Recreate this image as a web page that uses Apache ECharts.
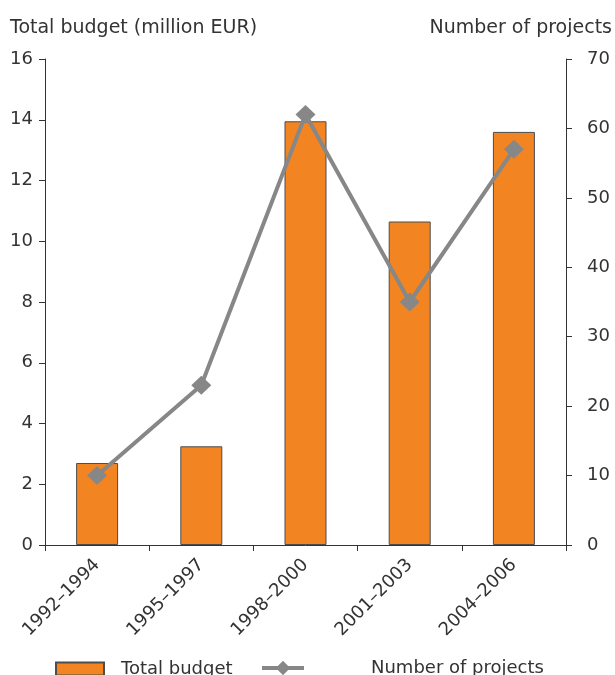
<!DOCTYPE html>
<html><head><meta charset="utf-8">
<script src="https://cdn.jsdelivr.net/npm/echarts@6/dist/echarts.min.js"></script>
<style>html,body{margin:0;padding:0;background:#fff}#c{width:615px;height:675px}</style>
</head><body><div id="c"></div>
<script>
const categories = ['1992\u20131994','1995\u20131997','1998\u20132000','2001\u20132003','2004\u20132006'];
const totalBudget = [2.7, 3.25, 13.95, 10.65, 13.6];
const numberOfProjects = [10, 23, 62, 35, 57];
const leftTicks = {min:0, max:16, interval:2};
const rightTicks = {min:0, max:70, interval:10};

const font = 'DejaVu Sans';
const txt = '#333';
const fs = 18;
const chart = echarts.init(document.getElementById('c'), null, {renderer:'canvas'});
chart.setOption({
  animation:false,
  grid:{left:45, right:48, top:59, bottom:130},
  textStyle:{fontFamily:font},
  legend:[
    {left:50, top:655, itemWidth:48, itemHeight:13, itemGap:10,
     data:[{name:'Total budget', icon:'rect'}],
     textStyle:{fontFamily:font, fontSize:fs, color:txt, padding:[0,0,0,12]}},
    {left:255, top:654, itemWidth:42, itemHeight:18,
     lineStyle:{width:4},
     data:[{name:'Number of projects'}],
     textStyle:{fontFamily:font, fontSize:fs, color:txt, padding:[0,0,0,62]}}
  ],
  xAxis:{type:'category', data:categories,
    axisLine:{lineStyle:{color:'#333', width:1}},
    axisTick:{show:true, length:6, alignWithLabel:false, lineStyle:{color:'#333'}},
    axisLabel:{rotate:45, fontFamily:font, fontSize:fs, color:txt, margin:17, interval:0}},
  yAxis:[
    {type:'value', min:leftTicks.min, max:leftTicks.max, interval:leftTicks.interval,
     name:'Total budget (million EUR)', nameLocation:'end', nameGap:21,
     nameTextStyle:{fontFamily:font, fontSize:19, color:txt, align:'left', padding:[0,0,0,-35]},
     axisLine:{show:true, lineStyle:{color:'#333'}},
     axisTick:{show:true, length:6, lineStyle:{color:'#333'}},
     splitLine:{show:false},
     axisLabel:{fontFamily:font, fontSize:fs, color:txt, margin:12}},
    {type:'value', min:rightTicks.min, max:rightTicks.max, interval:rightTicks.interval,
     name:'Number of projects', nameLocation:'end', nameGap:21,
     nameTextStyle:{fontFamily:font, fontSize:19, color:txt, align:'right', padding:[0,-46,0,0]},
     axisLine:{show:true, lineStyle:{color:'#333'}},
     axisTick:{show:true, length:6, lineStyle:{color:'#333'}},
     splitLine:{show:false},
     axisLabel:{fontFamily:font, fontSize:fs, color:txt, margin:21}}
  ],
  series:[
    {name:'Total budget', type:'bar', yAxisIndex:0, data:totalBudget, barWidth:42,
     itemStyle:{color:'#F28522', borderColor:'#4d4d4d', borderWidth:1}},
    {name:'Number of projects', type:'line', yAxisIndex:1, data:numberOfProjects,
     symbol:'diamond', symbolSize:[20,19],
     lineStyle:{color:'#878787', width:4},
     itemStyle:{color:'#878787'}}
  ]
});
</script></body></html>
